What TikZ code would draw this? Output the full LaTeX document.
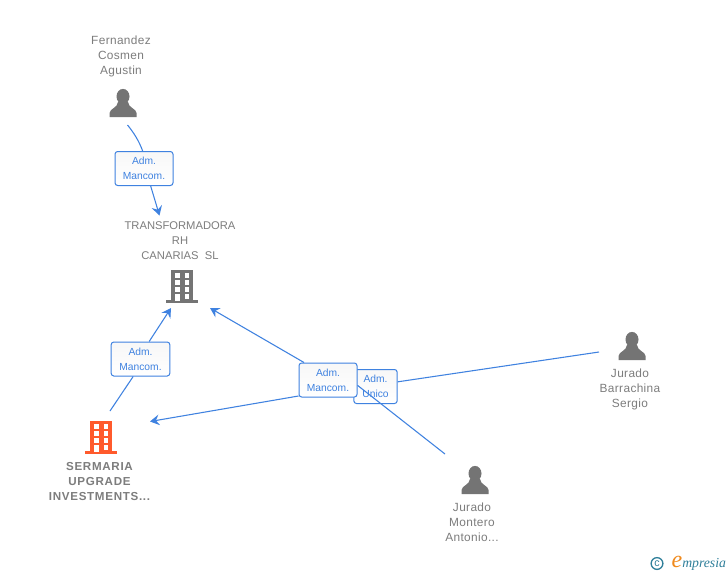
\documentclass[tikz,border=0pt]{standalone}
\usepackage{fontspec}
\setmainfont{Liberation Sans}
\newfontfamily\boldspaced[LetterSpace=6,BoldFont={Liberation Sans Bold}]{Liberation Sans}
\newfontfamily\widefont[LetterSpace=3]{Liberation Sans}
\newfontfamily\logofont{Liberation Serif}
\usetikzlibrary{arrows.meta,calc}
\definecolor{linkblue}{HTML}{3F82E0}
\definecolor{namegray}{HTML}{7D7D7D}
\definecolor{icongray}{HTML}{747474}
\definecolor{iconorange}{HTML}{FF5A2C}
\definecolor{logoteal}{HTML}{2F7F9A}
\definecolor{logoorange}{HTML}{F08A1D}
\tikzset{
  link/.style={draw=linkblue,line width=0.8pt},
  linkarrow/.style={link,-{Stealth[length=7pt,width=8pt,inset=2.5pt]}},
  rolebox/.style={draw=linkblue,line width=0.75pt,rounded corners=2pt,top color=black!3,bottom color=white,
    text=linkblue,font=\fontsize{7.7}{11.25}\selectfont,align=center,inner sep=0pt,anchor=center},
  namelabel/.style={text=namegray,font=\fontsize{8.4}{11.25}\selectfont,align=center,inner sep=0pt,anchor=center},
  personlabel/.style={namelabel,font=\fontsize{8.9}{11.25}\widefont},
  person/.pic={
    \fill[icongray] (0,-20.5) ellipse (6.5 and 7.6);
    \fill[icongray] (-13.5,0) -- (-13.5,-4) .. controls (-13.2,-8.5) and (-5.5,-9) .. (-5,-15)
      -- (5,-15) .. controls (5.5,-9) and (13.2,-8.5) .. (13.5,-4) -- (13.5,0) -- cycle;
  },
  tower/.pic={
    \fill[pic actions] (-11,-32) rectangle (11,-1);
    \fill[pic actions] (-16,-2) rectangle (16,1);
    \foreach \yy in {-29,-22,-15} {
      \fill[white] (-7,\yy) rectangle (-2.5,\yy+4.6);
      \fill[white] (2.5,\yy) rectangle (7,\yy+4.6);
    }
    \fill[white] (-7,-8) rectangle (-2.5,-1);
    \fill[white] (2.5,-8) rectangle (7,-3.5);
  },
}
\begin{document}
\begin{tikzpicture}[x=0.75pt,y=-0.75pt]
\useasboundingbox[fill=white] (0,0) rectangle (728,575);

% icons
\pic at (123,117) {person};
\pic at (632,360) {person};
\pic at (475,494) {person};
\pic[fill=icongray] at (182,302) {tower};
\pic[fill=iconorange] at (101,453) {tower};

% names
\node[personlabel] (fernandez) at (121,56) {Fernandez\\Cosmen\\Agustin};
\node[namelabel] (transf) at (180,241) {TRANSFORMADORA\\RH\\CANARIAS\ \ SL};
\node[personlabel] (barrachina) at (630,389) {Jurado\\Barrachina\\Sergio};
\node[personlabel] (montero) at (472,522) {Jurado\\Montero\\Antonio...};
\node[namelabel,font={\fontsize{8.7}{11.25}\boldspaced\bfseries}] (sermaria) at (99.5,481) {SERMARIA\\UPGRADE\\INVESTMENTS...};

% free ends
\coordinate (fromFernandez) at (127.5,125);
\coordinate (toTransfTop) at (159.5,215.5);
\coordinate (fromSermaria) at (110,411);
\coordinate (toTransfLeft) at (171,308);
\coordinate (toTransfRight) at (210,308);
\coordinate (toSermaria) at (150,421.5);
\coordinate (fromMontero) at (445,454);
\coordinate (fromBarrachina) at (599,352);

% role boxes
\node[rolebox,minimum width=43.5pt,minimum height=25.5pt] (boxA) at (144,168.5) {Adm.\\Mancom.};
\node[rolebox,minimum width=44pt,minimum height=25.5pt] (boxB) at (140.5,359) {Adm.\\Mancom.};
\node[rolebox,minimum width=32.5pt,minimum height=25.5pt] (boxU) at (375.5,386.5) {Adm.\hspace{3.5pt}\\Unico\hspace{3.5pt}};

% connectors
\draw[link] (fromFernandez) .. controls (134,133) and (139,141) .. ([xshift=-1pt]boxA.north);
\draw[linkarrow] ([xshift=5pt]boxA.south) -- (toTransfTop);
\draw[link] (fromSermaria) -- ([xshift=-5.5pt]boxB.south);
\draw[linkarrow] ([xshift=6.5pt]boxB.north) -- (toTransfLeft);
\draw[link] (fromBarrachina) -- ([yshift=3.5pt]boxU.east);

\node[rolebox,minimum width=43.5pt,minimum height=25.5pt,draw=none,top color=white,bottom color=white] (boxMback) at (328,380) {\phantom{Adm.}};
\draw[link] (fromMontero) -- ([yshift=-4pt]boxMback.east);
\draw[linkarrow] ([xshift=-18pt]boxMback.north) -- (toTransfRight);
\draw[linkarrow] ([yshift=-12pt]boxMback.west) -- (toSermaria);
\node[rolebox,minimum width=43.5pt,minimum height=25.5pt] (boxM) at (328,380) {Adm.\\Mancom.};

% logo
\node[draw=logoteal,line width=1pt,circle,inner sep=0pt,minimum size=8.8pt,text=logoteal,font=\fontsize{8}{8}\selectfont] (copyr) at (657,563.5) {c};
\node[text=logoorange,font=\fontsize{18}{18}\logofont\itshape,inner sep=0pt] (logoe) at (677,562) {e};
\node[text=logoteal,font=\fontsize{10.3}{10.3}\logofont\itshape,inner sep=0pt,anchor=west] (logotext) at (682,564.5) {mpresia};
\end{tikzpicture}
\end{document}
